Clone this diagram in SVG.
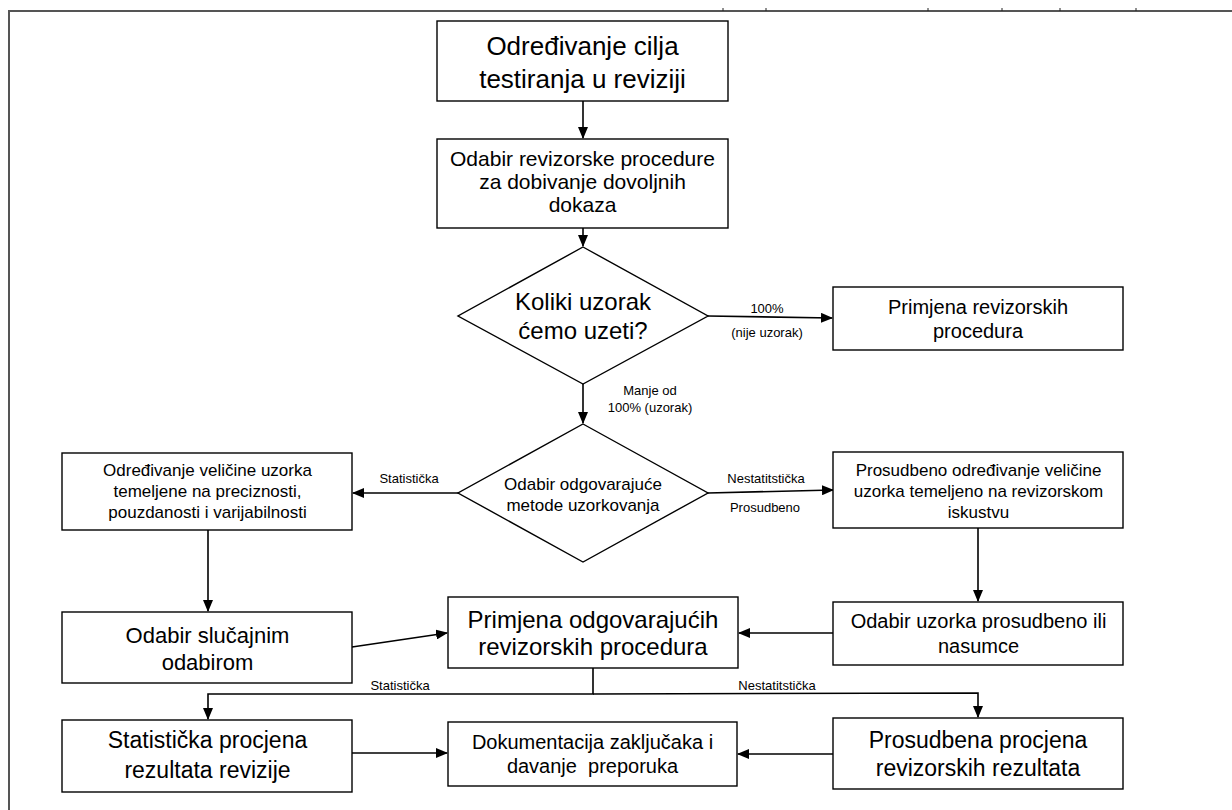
<svg xmlns="http://www.w3.org/2000/svg" width="1232" height="810" viewBox="0 0 1232 810">
<style>
  .box { fill: #fff; stroke: #000; stroke-width: 1.4; }
  .con { fill: none; stroke: #000; stroke-width: 1.6; }
  text { font-family: "Liberation Sans", Arial, sans-serif; fill: #000; text-anchor: middle; }
  .frame { fill: none; stroke: #555; stroke-width: 2; }
  .tick { stroke: #222; stroke-width: 1; }
</style>
<defs>
  <marker id="ah" markerWidth="12" markerHeight="10" refX="11" refY="5" orient="auto" markerUnits="userSpaceOnUse">
    <path d="M0,0 L12,5 L0,10 Z" fill="#000"/>
  </marker>
</defs>
<rect width="1232" height="810" fill="#fff"/>
<g id="frame">
  <path class="frame" d="M9,810 L9,11 L1232,11"/>
  <path class="tick" d="M723,8 V11 M766,8 V11 M928,8 V11 M1002,8 V11 M1060,8 V11 M1136,8 V11"/>
</g>
<g id="connectors">
  <path class="con" d="M583,101 V138" marker-end="url(#ah)"/>
  <path class="con" d="M583,228 V246" marker-end="url(#ah)"/>
  <path class="con" d="M708,316 L832,318" marker-end="url(#ah)"/>
  <path class="con" d="M583,384 V423" marker-end="url(#ah)"/>
  <path class="con" d="M458,493 L353,493" marker-end="url(#ah)"/>
  <path class="con" d="M708,493 L833,490" marker-end="url(#ah)"/>
  <path class="con" d="M208,530 V611" marker-end="url(#ah)"/>
  <path class="con" d="M978,528 V601" marker-end="url(#ah)"/>
  <path class="con" d="M352,647 L447,633" marker-end="url(#ah)"/>
  <path class="con" d="M833,633 L739,633" marker-end="url(#ah)"/>
  <path class="con" d="M593,668 V694 H208 V719" marker-end="url(#ah)"/>
  <path class="con" d="M593,694 L978,693 V717" marker-end="url(#ah)"/>
  <path class="con" d="M352,753 L447,753" marker-end="url(#ah)"/>
  <path class="con" d="M833,754 L738,754" marker-end="url(#ah)"/>
  <text x="767" y="313" font-size="13">100%</text>
  <text x="767" y="337" font-size="13">(nije uzorak)</text>
  <text x="650" y="395" font-size="13">Manje od</text>
  <text x="650" y="412" font-size="13">100% (uzorak)</text>
  <text x="409" y="483" font-size="13">Statistička</text>
  <text x="766" y="483" font-size="13">Nestatitstička</text>
  <text x="765" y="512" font-size="13">Prosudbeno</text>
  <text x="400" y="690" font-size="13">Statistička</text>
  <text x="777" y="690" font-size="13">Nestatitstička</text>
</g>
<g id="n1">
  <rect class="box" x="437" y="21" width="291" height="80"/>
  <text x="582.5" y="55" font-size="26">Određivanje cilja</text>
  <text x="582.5" y="88" font-size="26">testiranja u reviziji</text>
</g>
<g id="n2">
  <rect class="box" x="437" y="139" width="291" height="89"/>
  <text x="582.5" y="166" font-size="21">Odabir revizorske procedure</text>
  <text x="582.5" y="189" font-size="21">za dobivanje dovoljnih</text>
  <text x="582.5" y="212" font-size="21">dokaza</text>
</g>
<g id="d1">
  <polygon class="box" points="583,247 708,316 583,384 458,316"/>
  <text x="583" y="310" font-size="24">Koliki uzorak</text>
  <text x="583" y="339" font-size="24">ćemo uzeti?</text>
</g>
<g id="n3">
  <rect class="box" x="833" y="287" width="290" height="63"/>
  <text x="978" y="314" font-size="20">Primjena revizorskih</text>
  <text x="978" y="338" font-size="20">procedura</text>
</g>
<g id="d2">
  <polygon class="box" points="583,424 708,493 583,562 458,493"/>
  <text x="583" y="490" font-size="17">Odabir odgovarajuće</text>
  <text x="583" y="511" font-size="17">metode uzorkovanja</text>
</g>
<g id="l1">
  <rect class="box" x="62" y="453" width="290" height="77"/>
  <text x="207.5" y="476" font-size="17">Određivanje veličine uzorka</text>
  <text x="207.5" y="497" font-size="17">temeljene na preciznosti,</text>
  <text x="207.5" y="518" font-size="17">pouzdanosti i varijabilnosti</text>
</g>
<g id="r1">
  <rect class="box" x="833" y="452" width="290" height="76"/>
  <text x="978.5" y="476" font-size="17">Prosudbeno određivanje veličine</text>
  <text x="978.5" y="497" font-size="17">uzorka temeljeno na revizorskom</text>
  <text x="978.5" y="518" font-size="17">iskustvu</text>
</g>
<g id="l2">
  <rect class="box" x="62" y="612" width="290" height="71"/>
  <text x="207.5" y="643" font-size="22">Odabir slučajnim</text>
  <text x="207.5" y="670" font-size="22">odabirom</text>
</g>
<g id="c1">
  <rect class="box" x="448" y="597" width="290" height="71"/>
  <text x="593" y="628" font-size="24">Primjena odgovarajućih</text>
  <text x="593" y="655" font-size="24">revizorskih procedura</text>
</g>
<g id="r2">
  <rect class="box" x="833" y="602" width="290" height="63"/>
  <text x="978.5" y="628" font-size="20">Odabir uzorka prosudbeno ili</text>
  <text x="978.5" y="653" font-size="20">nasumce</text>
</g>
<g id="l3">
  <rect class="box" x="62" y="720" width="290" height="72"/>
  <text x="207.5" y="748" font-size="23">Statistička procjena</text>
  <text x="207.5" y="778" font-size="23">rezultata revizije</text>
</g>
<g id="c2">
  <rect class="box" x="448" y="722" width="289" height="64"/>
  <text x="592.5" y="749" font-size="20">Dokumentacija zaključaka i</text>
  <text x="592.5" y="773" font-size="20" xml:space="preserve">davanje  preporuka</text>
</g>
<g id="r3">
  <rect class="box" x="833" y="718" width="290" height="71"/>
  <text x="978" y="748" font-size="23">Prosudbena procjena</text>
  <text x="978" y="776" font-size="23">revizorskih rezultata</text>
</g>
</svg>
